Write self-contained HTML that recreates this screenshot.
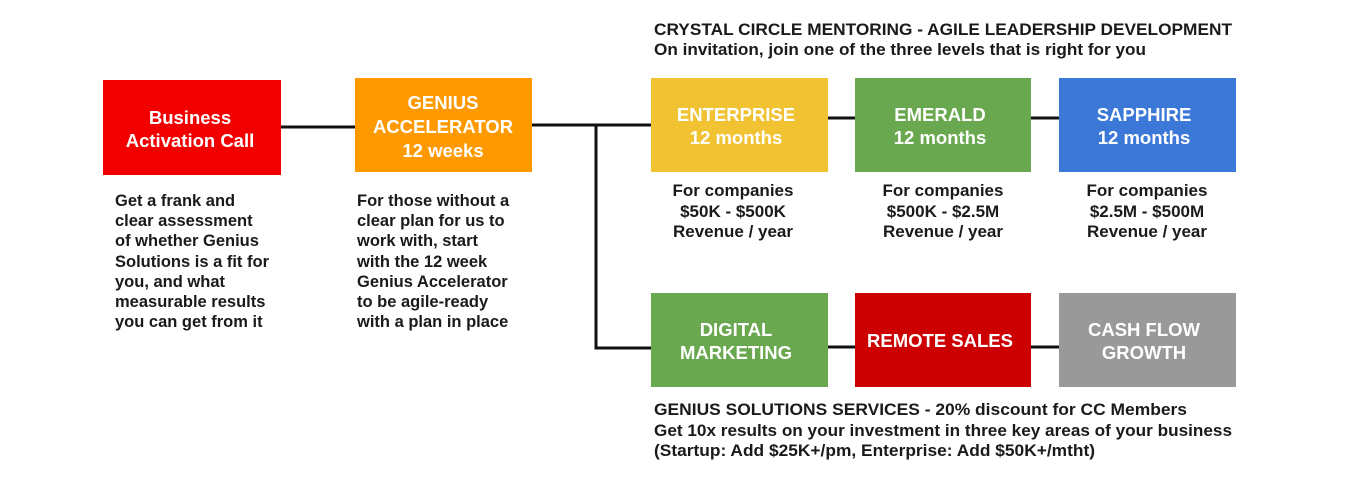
<!DOCTYPE html>
<html><head><meta charset="utf-8"><style>
html,body{margin:0;padding:0;background:#fff;}
svg{display:block;font-family:"Liberation Sans",Arial,sans-serif;}
.bt{fill:#fff;font-weight:bold;font-size:18.5px;text-anchor:middle;}
.d{fill:#1a1a1a;font-weight:bold;font-size:16.5px;}
.t{font-size:17px;}
.h{font-size:16.5px;}
.c{text-anchor:middle;}
</style></head><body>
<svg width="1367" height="490" viewBox="0 0 1367 490">
<g stroke="#111" stroke-width="3" fill="none">
<line x1="281" y1="127" x2="355" y2="127"/>
<line x1="532" y1="125" x2="651" y2="125"/>
<line x1="596" y1="125" x2="596" y2="349"/>
<line x1="594.5" y1="348" x2="651" y2="348"/>
<line x1="828" y1="118" x2="855" y2="118"/>
<line x1="1031" y1="118" x2="1059" y2="118"/>
<line x1="828" y1="347" x2="855" y2="347"/>
<line x1="1031" y1="347" x2="1059" y2="347"/>
</g>
<g><rect x="103" y="80" width="178" height="95" fill="#f20000"/>
<text class="bt" x="190" y="124">Business</text><text class="bt" x="190" y="147">Activation Call</text></g>
<g><rect x="355" y="78" width="177" height="94" fill="#ff9900"/>
<text class="bt" x="443" y="109">GENIUS</text><text class="bt" x="443" y="133">ACCELERATOR</text><text class="bt" x="443" y="157">12 weeks</text></g>
<g><rect x="651" y="78" width="177" height="94" fill="#f1c232"/>
<text class="bt" x="736" y="121">ENTERPRISE</text><text class="bt" x="736" y="144">12 months</text></g>
<g><rect x="855" y="78" width="176" height="94" fill="#6aa84f"/>
<text class="bt" x="940" y="121">EMERALD</text><text class="bt" x="940" y="144">12 months</text></g>
<g><rect x="1059" y="78" width="177" height="94" fill="#3c78d8"/>
<text class="bt" x="1144" y="121">SAPPHIRE</text><text class="bt" x="1144" y="144">12 months</text></g>
<g><rect x="651" y="293" width="177" height="94" fill="#6aa84f"/>
<text class="bt" x="736" y="336">DIGITAL</text><text class="bt" x="736" y="359">MARKETING</text></g>
<g><rect x="855" y="293" width="176" height="94" fill="#cc0000"/>
<text class="bt" x="940" y="347">REMOTE SALES</text></g>
<g><rect x="1059" y="293" width="177" height="94" fill="#999999"/>
<text class="bt" x="1144" y="336">CASH FLOW</text><text class="bt" x="1144" y="359">GROWTH</text></g>
<g>
<text class="d" x="115" y="206">Get a frank and</text><text class="d" x="115" y="226">clear assessment</text><text class="d" x="115" y="246">of whether Genius</text><text class="d" x="115" y="267">Solutions is a fit for</text><text class="d" x="115" y="287">you, and what</text><text class="d" x="115" y="307">measurable results</text><text class="d" x="115" y="327">you can get from it</text></g>
<g>
<text class="d" x="357" y="206">For those without a</text><text class="d" x="357" y="226">clear plan for us to</text><text class="d" x="357" y="246">work with, start</text><text class="d" x="357" y="267">with the 12 week</text><text class="d" x="357" y="287">Genius Accelerator</text><text class="d" x="357" y="307">to be agile-ready</text><text class="d" x="357" y="327">with a plan in place</text></g>
<g><text class="d t c" x="733" y="196">For companies</text><text class="d t c" x="733" y="217">$50K - $500K</text><text class="d t c" x="733" y="237">Revenue / year</text></g>
<g><text class="d t c" x="943" y="196">For companies</text><text class="d t c" x="943" y="217">$500K - $2.5M</text><text class="d t c" x="943" y="237">Revenue / year</text></g>
<g><text class="d t c" x="1147" y="196">For companies</text><text class="d t c" x="1147" y="217">$2.5M - $500M</text><text class="d t c" x="1147" y="237">Revenue / year</text></g>
<g>
<text class="d h" x="654" y="35" textLength="578" lengthAdjust="spacingAndGlyphs">CRYSTAL CIRCLE MENTORING - AGILE LEADERSHIP DEVELOPMENT</text>
<text class="d h" x="654" y="55" textLength="492" lengthAdjust="spacingAndGlyphs">On invitation, join one of the three levels that is right for you</text></g>
<g>
<text class="d h" x="654" y="415" textLength="533" lengthAdjust="spacingAndGlyphs">GENIUS SOLUTIONS SERVICES - 20% discount for CC Members</text>
<text class="d h" x="654" y="436" textLength="578" lengthAdjust="spacingAndGlyphs">Get 10x results on your investment in three key areas of your business</text>
<text class="d h" x="654" y="456" textLength="441" lengthAdjust="spacingAndGlyphs">(Startup: Add $25K+/pm, Enterprise: Add $50K+/mtht)</text></g>
</svg>
</body></html>
